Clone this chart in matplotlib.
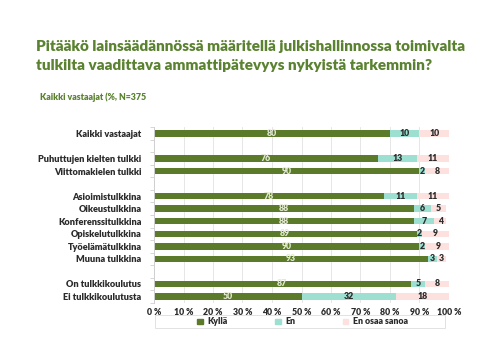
import matplotlib
matplotlib.use("Agg")
import matplotlib.pyplot as plt
from matplotlib.patches import Rectangle, Patch
import numpy as np

categories = ["Kaikki vastaajat", "", "Puhuttujen kielten tulkki", "Viittomakielen tulkki", "",
              "Asioimistulkkina", "Oikeustulkkina", "Konferenssitulkkina", "Opiskelutulkkina",
              "Työelämätulkkina", "Muuna tulkkina", "", "On tulkkikoulutus", "Ei tulkkikoulutusta"]
kylla = [80, None, 76, 90, None, 78, 88, 88, 89, 90, 93, None, 87, 50]
en = [10, None, 13, 2, None, 11, 6, 7, 2, 2, 3, None, 5, 32]
eos = [10, None, 11, 8, None, 11, 5, 4, 9, 9, 3, None, 8, 18]
series_names = ["Kyllä", "En", "En osaa sanoa"]
xticks = [0, 10, 20, 30, 40, 50, 60, 70, 80, 90, 100]

title = "Pitääkö lainsäädännössä määritellä julkishallinnossa toimivalta\ntulkilta vaadittava ammattipätevyys nykyistä tarkemmin?"
subtitle = "Kaikki vastaajat (%, N=375"

c_green = "#5b7a2a"
c_teal = "#9ddfd1"
c_pink = "#fde1de"
title_col = "#5a8230"
txt = "#2b2b2b"

plt.rcParams['font.family'] = ['Lato', 'DejaVu Sans']

fig = plt.figure(figsize=(5, 3.55), dpi=100)
ax = fig.add_axes([0.308, 0.147, 0.590, 0.495])

n = len(categories)
y = np.arange(n)
h = 0.52
for i in range(n):
    if kylla[i] is None:
        continue
    k, e, o = kylla[i], en[i], eos[i]
    ax.barh(i, k, height=h, color=c_green, zorder=2)
    ax.barh(i, e, left=k, height=h, color=c_teal, zorder=2)
    ax.barh(i, o, left=k + e, height=h, color=c_pink, zorder=2)
    ax.text(k / 2, i, str(k), ha='center', va='center', fontsize=6.3, color='#e4ead2', fontweight='heavy', zorder=3)
    ax.text(k + e / 2, i, str(e), ha='center', va='center', fontsize=6.3, color=txt, fontweight='heavy', zorder=3)
    ax.text(k + e + o / 2, i, str(o), ha='center', va='center', fontsize=6.3, color=txt, fontweight='heavy', zorder=3)

ax.set_xlim(0, 100)
ax.set_ylim(n - 0.5, -0.5)
ax.set_yticks(y)
ax.set_yticklabels(categories, fontsize=6.6, fontweight='heavy', color=txt)
ax.tick_params(axis='y', length=0, pad=9)
ax.set_yticks(np.arange(-0.5, n, 1), minor=True)
ax.tick_params(axis='y', which='minor', length=3, color='#d0d0d0', width=0.6)
ax.set_xticks(xticks)
ax.set_xticklabels([f"{t} %" for t in xticks], fontsize=6.3, fontweight='heavy', color=txt)
ax.tick_params(axis='x', length=0, pad=4)
ax.grid(axis='x', color='#e6e6e6', linewidth=0.7, zorder=0)
for s in ['top', 'right', 'bottom']:
    ax.spines[s].set_visible(False)
ax.spines['left'].set_color('#d0d0d0')
ax.spines['left'].set_linewidth(0.7)

fig.text(0.072, 0.888, title, fontsize=11.0, fontweight='heavy', color=title_col, va='top', ha='left', linespacing=1.58)
fig.text(0.08, 0.727, subtitle, fontsize=6.3, fontweight='heavy', color=title_col, va='center', ha='left')

# legend frame
fig.patches.append(Rectangle((0.31, 0.076), 0.58, 0.036, transform=fig.transFigure,
                             fill=False, edgecolor='#e2e2e2', linewidth=0.7))
handles = [Patch(color=c_green), Patch(color=c_teal), Patch(color=c_pink)]
leg = fig.legend(handles, series_names, loc='center', bbox_to_anchor=(0.605, 0.093), ncol=3, frameon=False,
                 fontsize=6.3, handlelength=0.6, handleheight=0.6, handletextpad=0.5, columnspacing=5.5)
for t in leg.get_texts():
    t.set_color(txt)
    t.set_fontweight('heavy')

fig.savefig("out.png", dpi=100)
